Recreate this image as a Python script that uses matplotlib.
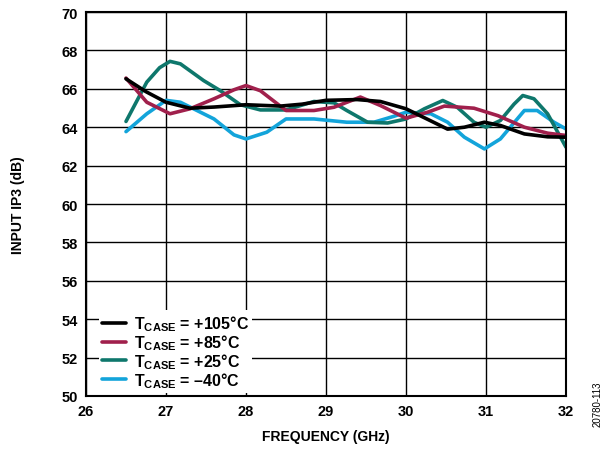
import numpy as np
import matplotlib
matplotlib.use("Agg")
import matplotlib.pyplot as plt

plt.rcParams["font.family"] = ["Liberation Sans", "DejaVu Sans"]
plt.rcParams["font.weight"] = "bold"
plt.rcParams["mathtext.fontset"] = "custom"
plt.rcParams["mathtext.rm"] = "Liberation Sans:bold"
plt.rcParams["mathtext.bf"] = "Liberation Sans:bold"
plt.rcParams["mathtext.it"] = "Liberation Sans:bold"

# --------------------
# Input IP3 vs frequency, one trace per case temperature
# --------------------

freq_105 = [26.5, 26.75, 27.0, 27.3, 27.6, 28.0, 28.43, 28.7, 29.0, 29.39, 29.68,
            30.0, 30.3, 30.52, 30.73, 30.98, 31.18, 31.48, 31.77, 32.0]
ip3_105 = [66.52, 65.85, 65.3, 64.99, 65.05, 65.17, 65.1, 65.2, 65.4, 65.44, 65.34,
           64.96, 64.35, 63.9, 64.0, 64.26, 64.09, 63.65, 63.5, 63.48]

freq_85 = [26.5, 26.76, 27.05, 27.3, 27.6, 27.85, 28.0, 28.18, 28.5, 28.85, 29.1, 29.43,
           29.68, 30.0, 30.27, 30.48, 30.85, 31.15, 31.48, 31.77, 32.0]
ip3_85 = [66.56, 65.3, 64.7, 64.96, 65.48, 65.95, 66.17, 65.9, 64.87, 64.87, 65.04, 65.57,
          65.13, 64.47, 64.78, 65.1, 64.99, 64.6, 64.0, 63.69, 63.57]

freq_25 = [26.5, 26.76, 26.92, 27.05, 27.18, 27.47, 27.68, 27.93, 28.18, 28.5, 28.85, 29.1,
           29.26, 29.52, 29.77, 30.0, 30.23, 30.46, 30.64, 30.85, 31.0, 31.18,
           31.35, 31.46, 31.6, 31.77, 32.0]
ip3_25 = [64.3, 66.35, 67.1, 67.43, 67.3, 66.43, 65.9, 65.17, 64.9, 64.9, 65.34, 65.27,
          64.87, 64.26, 64.22, 64.43, 64.96, 65.39, 65.04, 64.26, 64.0, 64.35,
          65.2, 65.65, 65.48, 64.7, 62.96]

freq_m40 = [26.5, 26.76, 27.0, 27.18, 27.6, 27.85, 28.0, 28.26, 28.5, 28.85, 29.26, 29.6,
            29.85, 30.0, 30.31, 30.52, 30.73, 30.98, 31.18, 31.48, 31.64, 31.85, 32.0]
ip3_m40 = [63.77, 64.7, 65.4, 65.3, 64.43, 63.6, 63.39, 63.74, 64.43, 64.43, 64.26, 64.26,
           64.57, 64.78, 64.7, 64.26, 63.48, 62.87, 63.39, 64.87, 64.87, 64.26, 63.91]

labels = [r"$\mathbf{T_{CASE}}$ = +105°C", r"$\mathbf{T_{CASE}}$ = +85°C",
          r"$\mathbf{T_{CASE}}$ = +25°C", r"$\mathbf{T_{CASE}}$ = –40°C"]
colors = ["#000000", "#A0204C", "#0E776C", "#13A4DA"]

x_ticks = [26, 27, 28, 29, 30, 31, 32]
y_ticks = [50, 52, 54, 56, 58, 60, 62, 64, 66, 68, 70]

fig = plt.figure(figsize=(6.13, 4.52), dpi=100)
ax = fig.add_axes([0.1403, 0.1217, 0.7830, 0.8495])

series = [(freq_105, ip3_105), (freq_85, ip3_85), (freq_25, ip3_25), (freq_m40, ip3_m40)]
# draw coldest first so the black trace stays on top
for (f, v), lab, c in reversed(list(zip(series, labels, colors))):
    ax.plot(f, v, color=c, linewidth=2.6, label=lab,
            solid_joinstyle="round", solid_capstyle="round")

ax.set_xlim(26, 32)
ax.set_ylim(50, 70)
ax.set_xticks(x_ticks)
ax.set_yticks(y_ticks)
ax.tick_params(length=0, labelsize=10.5, pad=6)
ax.grid(True, color="black", linewidth=1.0)
ax.set_axisbelow(True)
for sp in ax.spines.values():
    sp.set_linewidth(1.5)

ax.set_xlabel("FREQUENCY (GHz)", fontsize=10, fontweight="bold", labelpad=8)
ax.set_ylabel("INPUT IP3 (dB)", fontsize=10, fontweight="bold", labelpad=26)

handles, labs = ax.get_legend_handles_labels()
leg = ax.legend(handles[::-1], labs[::-1], loc="lower left", bbox_to_anchor=(0.02, 0.0),
                frameon=True, fancybox=False, framealpha=1.0, edgecolor="white",
                fontsize=11.5, handlelength=1.5, handletextpad=0.5, labelspacing=-0.05,
                borderpad=0.2, borderaxespad=0.2)
leg.get_frame().set_linewidth(0)

fig.text(0.975, 0.105, "20780-113", rotation=90, fontsize=7, fontweight="normal",
         ha="center", va="center")

fig.savefig("out.png", dpi=100)
